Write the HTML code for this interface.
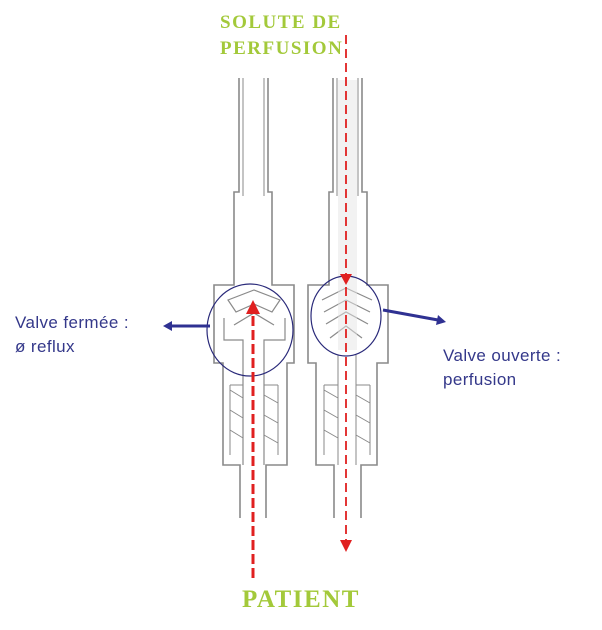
<!DOCTYPE html>
<html><head><meta charset="utf-8"><style>
html,body{margin:0;padding:0;background:#fff;width:602px;height:630px;overflow:hidden}
</style></head><body>
<svg width="602" height="630" viewBox="0 0 602 630" xmlns="http://www.w3.org/2000/svg">
<g fill="none" stroke="#8a8a8a" stroke-width="1.6">
<path d="M239 78 V192 H234 V285 H214 V363 H223 V465 H240 V518"/>
<path d="M268 78 V192 H272 V285 H294 V363 H287 V465 H266 V518"/>
<path d="M243 78 V196 M264 78 V196" stroke-width="1"/>
<path d="M224 318 V340 H243 V465 M285 318 V340 H264 V465" stroke-width="1.2"/>
<path d="M228 300 L254 290 L280 300 L272 312 L254 304 L236 312 Z" stroke-width="1.2"/>
<path d="M234 325 L254 313 L274 325" stroke-width="1.2"/>
<path d="M230 385 H243 M264 385 H278 M230 390 L243 398 M230 410 L243 418 M230 430 L243 438 M264 395 L278 403 M264 415 L278 423 M264 435 L278 443 M230 385 V455 M278 385 V455" stroke-width="1"/>
<path d="M333 78 V192 H329 V285 H308 V363 H316 V465 H334 V518"/>
<path d="M362 78 V192 H367 V285 H388 V363 H377 V465 H361 V518"/>
<path d="M337 78 V196 M358 78 V196" stroke-width="1"/>
<path d="M338 355 V465 M356 355 V465" stroke-width="1"/>
<path d="M322 300 L346 288 L372 300 M324 312 L346 300 L370 312 M326 324 L346 312 L368 324 M330 338 L346 326 L362 338" stroke-width="1.2"/>
<path d="M324 385 H338 M356 385 H370 M324 390 L338 398 M324 410 L338 418 M324 430 L338 438 M356 395 L370 403 M356 415 L370 423 M356 435 L370 443 M324 385 V455 M370 385 V455" stroke-width="1"/>
</g>
<rect x="338" y="80" width="19" height="270" fill="#e6e6e6" opacity="0.5"/>
<ellipse cx="250" cy="330" rx="43" ry="46" fill="none" stroke="#2a2a7a" stroke-width="1.2"/>
<ellipse cx="346" cy="316" rx="35" ry="40" fill="none" stroke="#2a2a7a" stroke-width="1.2"/>
<line x1="210" y1="326" x2="170" y2="326" stroke="#2f3192" stroke-width="3"/>
<polygon points="163,326 172,321 172,331" fill="#2f3192"/>
<line x1="383" y1="310" x2="438" y2="320" stroke="#2f3192" stroke-width="3"/>
<polygon points="446,322 436,325 438,315" fill="#2f3192"/>
<line x1="253" y1="578" x2="253" y2="312" stroke="#e02020" stroke-width="3" stroke-dasharray="10,4"/>
<polygon points="253,300 246,314 260,314" fill="#e02020"/>
<line x1="346" y1="35" x2="346" y2="540" stroke="#e02020" stroke-width="1.8" stroke-dasharray="9,5"/>
<polygon points="346,552 340,540 352,540" fill="#e02020"/>
<polygon points="346,285 340,274 352,274" fill="#e02020"/>
<g font-family="Liberation Serif, serif" font-weight="bold" fill="#a3c93a">
<text x="220" y="28" font-size="19" letter-spacing="1.5">SOLUTE DE</text>
<text x="220" y="54" font-size="19" letter-spacing="1.5">PERFUSION</text>
<text x="242" y="607" font-size="25" letter-spacing="1.5">PATIENT</text>
</g>
<g font-family="Liberation Sans, sans-serif" font-size="17" fill="#34388a" letter-spacing="0.4">
<text x="15" y="328">Valve fermée :</text>
<text x="15" y="352">ø reflux</text>
<text x="443" y="361">Valve ouverte :</text>
<text x="443" y="385">perfusion</text>
</g>
</svg>
</body></html>
